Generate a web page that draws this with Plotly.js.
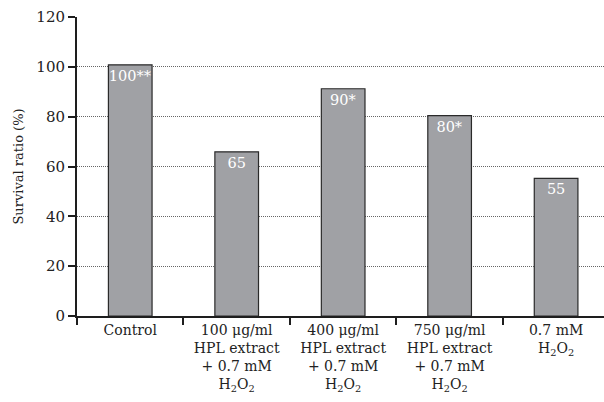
<!DOCTYPE html>
<html><head><meta charset="utf-8">
<script src="https://cdn.plot.ly/plotly-3.0.1.min.js"></script>
<style>html,body{margin:0;padding:0;background:#fff}</style>
</head><body>
<div id="chart" style="width:604px;height:402px"></div>
<script>
var categories = [
  "Control",
  "100 μg/ml<br>HPL extract<br>+ 0.7 mM<br>H<sub>2</sub>O<sub>2</sub>",
  "400 μg/ml<br>HPL extract<br>+ 0.7 mM<br>H<sub>2</sub>O<sub>2</sub>",
  "750 μg/ml<br>HPL extract<br>+ 0.7 mM<br>H<sub>2</sub>O<sub>2</sub>",
  "0.7 mM<br>H<sub>2</sub>O<sub>2</sub>"
];
var survival = [100.8, 65.9, 91.2, 80.4, 55.2];
var barLabels = ["100**", "65", "90*", "80*", "55"];
var yTicks = [0, 20, 40, 60, 80, 100, 120];

var FONT = "DejaVu Serif";
var trace = {
  type: "bar",
  x: categories,
  y: survival,
  text: barLabels,
  textposition: "inside",
  insidetextanchor: "end",
  textangle: 0,
  constraintext: "none",
  textfont: {family: FONT, size: 14.5, color: "#ffffff"},
  marker: {color: "#a0a1a5", line: {color: "#2a2a2a", width: 1.2}},
  width: 0.41,
  hoverinfo: "none"
};
var layout = {
  width: 604, height: 402,
  margin: {l: 77, r: 0, t: 17, b: 86},
  paper_bgcolor: "#fff", plot_bgcolor: "#fff",
  showlegend: false,
  font: {family: FONT, color: "#222"},
  xaxis: {
    type: "category",
    range: [-0.5, 4.45],
    showline: true, linecolor: "#1e1e1e", linewidth: 2,
    ticks: "outside", tickson: "boundaries", ticklen: 7, tickwidth: 2, tickcolor: "#1e1e1e",
    tickfont: {family: FONT, size: 14, color: "#222"},
    showgrid: false, zeroline: false, fixedrange: true
  },
  yaxis: {
    range: [0, 120],
    tickvals: yTicks,
    showline: true, linecolor: "#1e1e1e", linewidth: 2,
    ticks: "outside", ticklen: 7, tickwidth: 2, tickcolor: "#1e1e1e",
    tickfont: {family: FONT, size: 15, color: "#222"},
    showgrid: true, gridcolor: "#666", gridwidth: 1, griddash: "1px,1px",
    zeroline: false,
    title: {text: "Survival ratio (%)", font: {family: FONT, size: 13, color: "#222"}, standoff: 10}
  },
  bargap: 0.6
};
Plotly.newPlot("chart", [trace], layout, {staticPlot: true, displayModeBar: false});
</script>
</body></html>
